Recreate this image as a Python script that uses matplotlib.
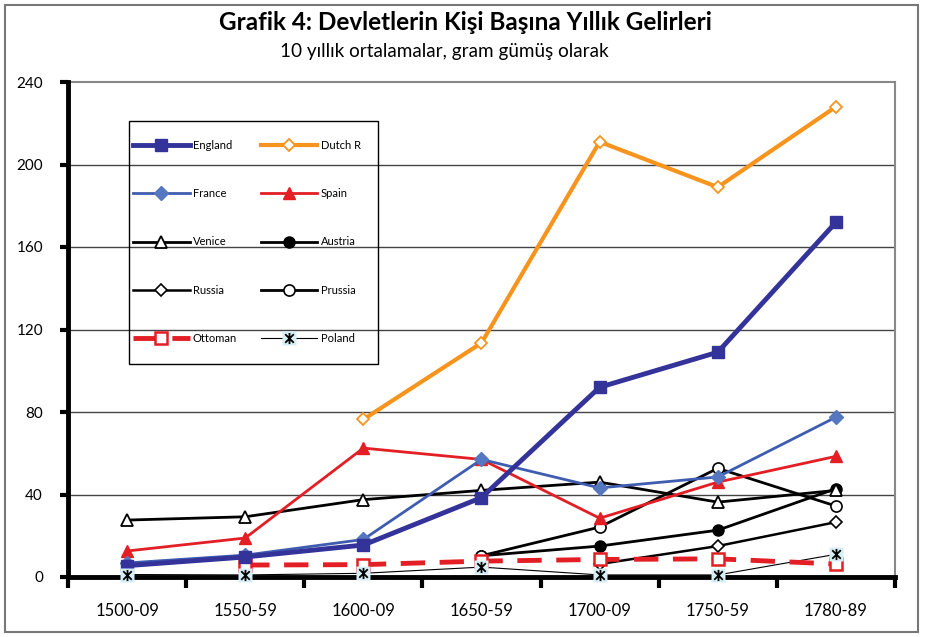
import matplotlib
matplotlib.use("Agg")
import matplotlib.pyplot as plt
import numpy as np
from matplotlib.path import Path
from matplotlib.lines import Line2D
from matplotlib.patches import Rectangle

nan = np.nan
periods = ['1500-09', '1550-59', '1600-09', '1650-59', '1700-09', '1750-59', '1780-89']
england = [5.5, 9.7, 15.5, 38.5, 92, 109, 172]
dutch = [nan, nan, 76.4, 113.5, 211, 189, 228]
france = [6.8, 10.6, 18.2, 57, 43.2, 48.5, 77.5]
spain = [12.6, 18.9, 62.5, 57, 28.5, 46, 58.5]
venice = [27.6, 29.2, 37.5, 42, 46, 36.3, 42]
austria = [nan, nan, nan, 10.3, 15, 22.7, 42.8]
russia = [nan, nan, nan, nan, 6.3, 15, 26.6]
prussia = [nan, nan, nan, 10.3, 24.2, 52.7, 34.4]
ottoman = [nan, 5.8, 6.0, 7.7, 8.5, 8.8, 6.3]
poland = [1.2, 1.0, 1.8, 4.8, 1.0, 1.0, 11]

# excel style star: X with a vertical bar
star = Path([(-1, -1), (1, 1), (-1, 1), (1, -1), (0, -1.3), (0, 1.3)],
            [Path.MOVETO, Path.LINETO, Path.MOVETO, Path.LINETO, Path.MOVETO, Path.LINETO])

plt.rcParams['font.family'] = ['Lato', 'DejaVu Sans']

W, H = 928, 637
fig = plt.figure(figsize=(9.28, 6.37), dpi=100)
ax = fig.add_axes([68 / W, 1 - 577 / H, 827 / W, 495 / H])
x = np.arange(len(periods))

ax.set_xlim(-0.5, 6.5)
ax.set_ylim(0, 240)

for v in [40, 80, 120, 160, 200]:
    ax.axhline(v, color='#444444', lw=1.0, zorder=1)

ax.plot(x, poland, color='black', lw=0.8, zorder=3)
ax.plot(x, poland, ls='none', marker='s', ms=10, mfc='#d6eff4', mec='none', zorder=9, clip_on=False)
ax.plot(x, poland, ls='none', marker=star, ms=8, mfc='none', mec='black', mew=1.3, zorder=10, clip_on=False)

ax.plot(x, russia, color='black', lw=1.8, marker='D', ms=6, mfc='white', mec='black', mew=1.2, zorder=4)
ax.plot(x, austria, color='black', lw=2, marker='o', ms=8, mfc='black', mec='black', zorder=4)
ax.plot(x, prussia, color='black', lw=2, marker='o', ms=8, mfc='white', mec='black', mew=1.2, zorder=4)
ax.plot(x, ottoman, color='#e31e24', lw=3.5, dashes=(5, 3), marker='s', ms=9, mfc='white',
        mec='#e31e24', mew=1.8, zorder=5)
ax.plot(x, venice, color='black', lw=2, marker='^', ms=8, mfc='white', mec='black', mew=1.3, zorder=4)
ax.plot(x, spain, color='#e31e24', lw=2, marker='^', ms=8, mfc='#e31e24', mec='#e31e24', zorder=5)
ax.plot(x, france, color='#3f5db0', lw=2, marker='D', ms=7, mfc='#5577c0', mec='#5577c0', zorder=6)
ax.plot(x, england, color='#333399', lw=3.5, marker='s', ms=8.5, mfc='#333399', mec='#333399', zorder=6)
ax.plot(x, dutch, color='#f7941d', lw=3, marker='D', ms=6.5, mfc='white', mec='#f7941d', mew=1.3, zorder=6)

for s in ['top', 'right']:
    ax.spines[s].set_color('#888888')
    ax.spines[s].set_linewidth(1.5)
for s in ['left', 'bottom']:
    ax.spines[s].set_color('black')
    ax.spines[s].set_linewidth(3.5)
    ax.spines[s].set_zorder(8)

ax.set_yticks([0, 40, 80, 120, 160, 200, 240])
ax.tick_params(axis='y', direction='out', length=6, width=3, pad=12, labelsize=11)
ax.set_xticks(np.arange(-0.5, 7, 1))
ax.set_xticklabels([])
ax.tick_params(axis='x', which='major', direction='out', length=8, width=3)
ax.set_xticks(x, minor=True)
ax.set_xticklabels(periods, minor=True, fontsize=12)
ax.tick_params(axis='x', which='minor', length=0, pad=19)

# legend, columns filled top to bottom
handles = [
    Line2D([], [], color='#333399', lw=3.5, marker='s', ms=8.5, mfc='#333399', mec='#333399'),
    Line2D([], [], color='#3f5db0', lw=2, marker='D', ms=7, mfc='#5577c0', mec='#5577c0'),
    Line2D([], [], color='black', lw=2, marker='^', ms=8, mfc='white', mec='black', mew=1.3),
    Line2D([], [], color='black', lw=1.8, marker='D', ms=6, mfc='white', mec='black', mew=1.2),
    Line2D([], [], color='#e31e24', lw=3.5, dashes=(5, 3), marker='s', ms=9, mfc='white', mec='#e31e24', mew=1.8),
    Line2D([], [], color='#f7941d', lw=3, marker='D', ms=6.5, mfc='white', mec='#f7941d', mew=1.3),
    Line2D([], [], color='#e31e24', lw=2, marker='^', ms=8, mfc='#e31e24', mec='#e31e24'),
    Line2D([], [], color='black', lw=2, marker='o', ms=8, mfc='black', mec='black'),
    Line2D([], [], color='black', lw=2, marker='o', ms=8, mfc='white', mec='black', mew=1.2),
    (Line2D([], [], color='black', lw=0.8, marker='s', ms=10, mfc='#d6eff4', mec='none'),
     Line2D([], [], ls='none', marker=star, ms=8, mfc='none', mec='black', mew=1.3)),
]
labels = ['England', 'France', 'Venice', 'Russia', 'Ottoman',
          'Dutch R', 'Spain', 'Austria', 'Prussia', 'Poland']
leg = fig.legend(handles, labels, ncol=2, loc='upper left',
                 bbox_to_anchor=(133 / W, 1 - 140 / H),
                 fontsize=8, frameon=False,
                 handlelength=5.1, handletextpad=0.3, labelspacing=3.35,
                 columnspacing=2.1, borderpad=0, borderaxespad=0)
fig.patches.append(Rectangle((129 / W, 1 - 364 / H), 249 / W, 243 / H, transform=fig.transFigure,
                             fill=False, edgecolor='black', lw=1.0, zorder=20))

fig.text(465 / W, 1 - 22 / H, 'Grafik 4: Devletlerin Kişi Başına Yıllık Gelirleri',
         ha='center', va='center', fontsize=17.5, fontweight='bold')
fig.text(444 / W, 1 - 52 / H, '10 yıllık ortalamalar, gram gümüş olarak',
         ha='center', va='center', fontsize=13.6)

fig.patches.append(Rectangle((5 / W, 5 / H), 913 / W, 627 / H, transform=fig.transFigure,
                             fill=False, edgecolor='#777777', lw=1.5))

fig.savefig('out.png', dpi=100)
